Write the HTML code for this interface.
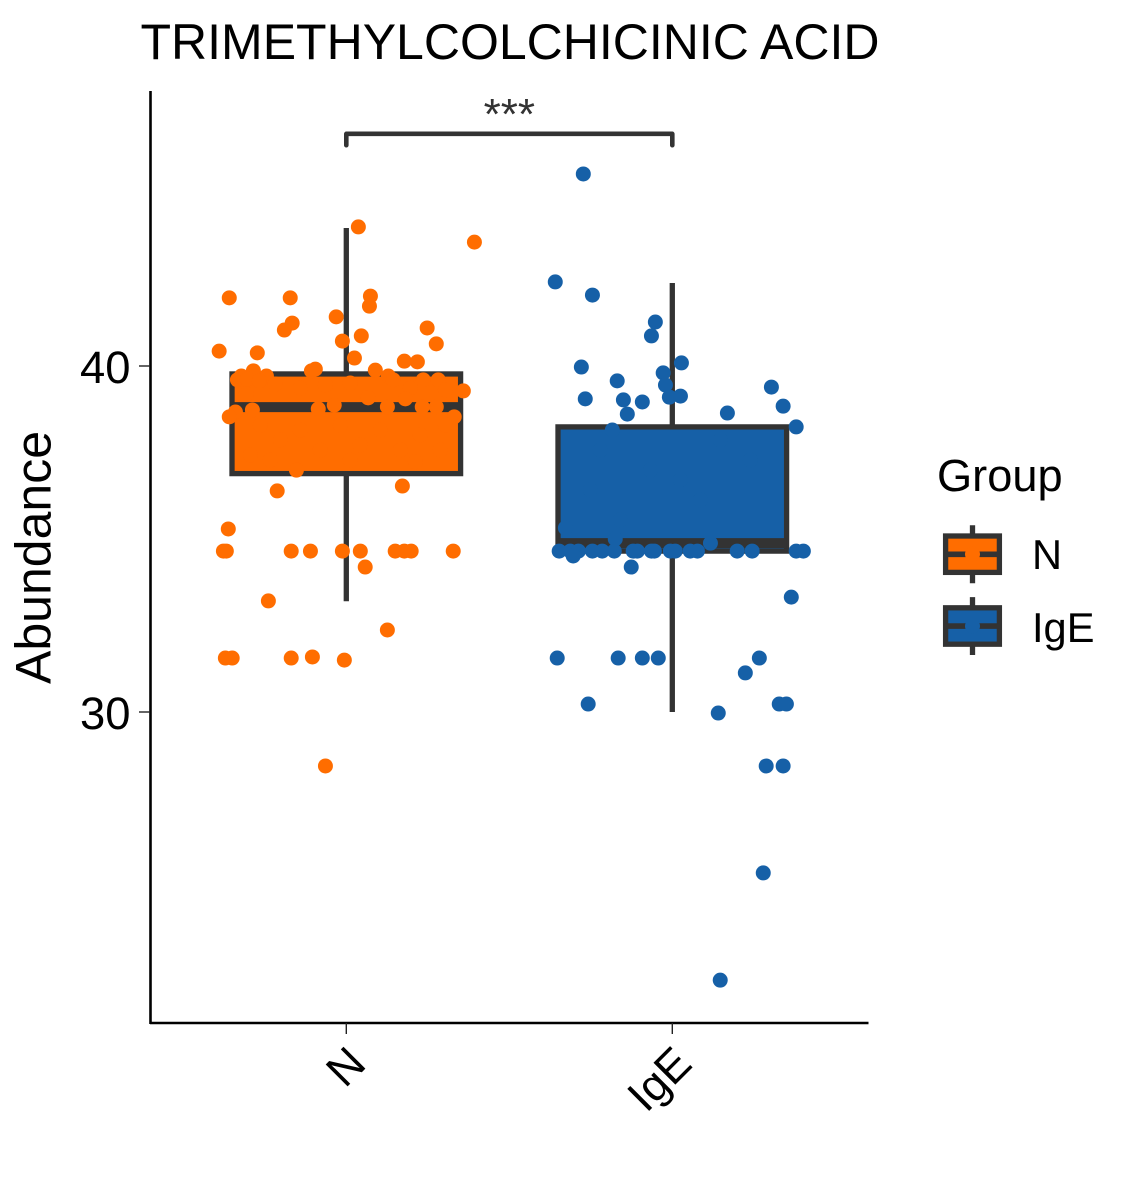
<!DOCTYPE html>
<html lang="en">
<head>
<meta charset="utf-8">
<title>TRIMETHYLCOLCHICINIC ACID</title>
<style>
html,body{margin:0;padding:0;background:#fff;width:1140px;height:1200px;overflow:hidden}
svg{display:block;font-family:"Liberation Sans",Arial,sans-serif}
</style>
</head>
<body>
<svg id="chart" width="1140" height="1200" viewBox="0 0 1140 1200" xmlns="http://www.w3.org/2000/svg">
<rect width="1140" height="1200" fill="#fff"/>
<text x="140.5" y="59" font-size="50" fill="#000">TRIMETHYLCOLCHICINIC ACID</text>
<text transform="translate(50.5,684) rotate(-90)" font-size="50" fill="#000">Abundance</text>
<g id="plot"></g>
<line x1="150.5" y1="91" x2="150.5" y2="1024" stroke="#000" stroke-width="2.6"/>
<line x1="150" y1="1023" x2="868.5" y2="1023" stroke="#000" stroke-width="2.6"/>
<g id="axes"></g>
<g fill="none" stroke="#333" stroke-width="4.6" stroke-linecap="round" stroke-linejoin="round">
<path id="bracket"></path>
</g>
<text id="stars" y="129" font-size="44" text-anchor="middle" fill="#333">***</text>
<g>
<text x="937" y="491" font-size="45.2" fill="#000">Group</text>
<g id="legend-keys"></g>
</g>
</svg>
<script>
const categories = ['N', 'IgE'];
const yTickValues = [30, 40];
const bracketLabel = '***';
const bracketLevel = 46.71;
const bracketDrop = 0.33;

const boxLow = [33.2, 30.0];
const boxQ1 = [36.89, 34.65];
const boxMedian = [38.81, 34.88];
const boxQ3 = [39.77, 38.24];
const boxHigh = [43.99, 42.4];
const boxFills = ['#FF6D00', '#1660A7'];

const normalJitter = [
  .037,.393,-.359,-.172,.074,.071,-.031,-.166,-.190,.248,.046,-.012,.276,-.390,-.273,.025,.178,.218,-.095,-.107,.089,
  -.322,-.285,-.245,-.334,-.304,-.267,-.307,-.218,-.141,-.064,.012,.129,.144,.236,.282,.196,.359,.304,.067,.181,-.037,.126,.233,.276,-.086,-.340,-.288,-.359,.331,
  -.264,-.202,-.141,-.080,-.018,.043,.104,.166,.227,.288,-.294,-.233,-.153,.012,.212,.304,
  -.212,.172,-.362,-.377,-.368,-.169,-.110,-.012,.043,.150,.178,.199,.328,.058,-.239,.126,-.371,-.350,-.169,-.104,-.006,-.064
];
const normalValues = [
  44.02,43.58,41.97,41.97,42.02,41.73,41.42,41.24,41.04,41.10,40.87,40.72,40.64,40.43,40.38,40.23,40.14,40.12,39.91,39.86,39.88,
  39.71,39.86,39.71,39.60,39.62,39.57,39.19,39.48,39.36,39.45,39.51,39.71,39.60,39.60,39.60,39.36,39.28,39.31,39.08,39.05,38.87,38.82,38.82,38.82,38.76,38.67,38.73,38.53,38.53,
  38.29,37.86,38.15,37.57,38.29,37.72,38.15,37.57,38.01,37.57,37.43,37.28,36.99,37.28,37.23,38.29,
  36.39,36.53,35.29,34.65,34.65,34.65,34.65,34.65,34.65,34.65,34.65,34.65,34.65,34.19,33.21,32.37,31.56,31.56,31.56,31.59,31.50,28.44
];
const igeJitter = [
  -.273,-.359,-.245,-.052,-.064,-.279,-.169,.028,-.028,-.021,-.009,.025,-.267,-.150,-.092,-.138,.169,.304,.340,.380,-.184,
  -.347,-.313,-.288,-.245,-.215,-.178,-.120,-.107,-.064,-.055,-.006,.009,.055,.077,.199,.245,.380,.402,
  -.304,.117,-.175,-.328,-.126,.365,-.353,-.166,-.092,-.043,.267,.224,-.258,.328,.350,.141,.288,.340,.279,.147,
  -.221,-.067,.086,.239,-.160,.025,.147,-.252
];
const igeValues = [
  45.55,42.43,42.05,41.27,40.87,39.97,39.57,40.09,39.80,39.45,39.10,39.13,39.05,39.02,38.96,38.61,38.64,39.39,38.84,38.24,38.15,
  34.65,34.65,34.65,34.65,34.65,34.65,34.65,34.65,34.65,34.65,34.65,34.65,34.65,34.65,34.65,34.65,34.65,34.65,
  34.51,34.88,35.00,35.32,34.19,33.32,31.56,31.56,31.56,31.56,31.56,31.13,30.23,30.23,30.23,29.97,28.44,28.44,25.35,22.25,
  37.57,36.99,36.13,37.28,35.55,36.71,37.86,36.42
];

const NS = 'http://www.w3.org/2000/svg';
const xScale = i => 346.3 + 326 * i;
const yScale = v => 712 - (v - 30) * 34.6;
const DARK = '#333333';
const BOX_HALF = 114.3;
const POINT_R = 7.5;
const LINE_W = 5.3;

function make(tag, attrs, parent) {
  const el = document.createElementNS(NS, tag);
  for (const k in attrs) el.setAttribute(k, attrs[k]);
  parent.appendChild(el);
  return el;
}

const plot = document.getElementById('plot');
const axes = document.getElementById('axes');

categories.forEach((cat, i) => {
  const cx = xScale(i);
  const g = make('g', {}, plot);
  
  

  const whisker = make('line', { x1: cx, x2: cx, y1: yScale(boxHigh[i]), y2: yScale(boxLow[i]), stroke: DARK, 'stroke-width': LINE_W }, g);
  
  

  const top = yScale(boxQ3[i]);
  const bottom = yScale(boxQ1[i]);
  const rect = make('rect', { x: cx - BOX_HALF, y: top, width: BOX_HALF * 2, height: bottom - top, fill: boxFills[i], stroke: DARK, 'stroke-width': LINE_W }, g);
  
  

  const med = make('line', { x1: cx - BOX_HALF, x2: cx + BOX_HALF, y1: yScale(boxMedian[i]), y2: yScale(boxMedian[i]), stroke: DARK, 'stroke-width': 10 }, g);
  
  
});

function drawPoints(catIndex, jitter, values, color, name) {
  const g = make('g', { fill: color }, plot);
  
  
  values.forEach((v, k) => {
    const c = make('circle', { cx: xScale(catIndex + jitter[k]), cy: yScale(v), r: POINT_R }, g);
    
    
  });
}
drawPoints(0, normalJitter, normalValues, boxFills[0], 'n');
drawPoints(1, igeJitter, igeValues, boxFills[1], 'ige');

yTickValues.forEach(t => {
  const y = yScale(t);
  const tick = make('line', { x1: 139, x2: 150, y1: y, y2: y, stroke: '#222', 'stroke-width': 1.4 }, axes);
  
  
  const label = make('text', { x: 130.5, y: y + 17, 'text-anchor': 'end', 'font-size': 45.4, fill: '#000' }, axes);
  
  
  label.textContent = t;
});

categories.forEach((cat, i) => {
  const x = xScale(i);
  const tick = make('line', { x1: x, x2: x, y1: 1023, y2: 1034, stroke: '#222', 'stroke-width': 1.4 }, axes);
  
  
  const label = make('text', { transform: 'translate(' + (x + 21.7) + ',1066) rotate(-45)', 'text-anchor': 'end', 'font-size': 45, fill: '#000' }, axes);
  
  
  label.textContent = cat;
});

const by = yScale(bracketLevel);
const byDrop = yScale(bracketLevel - bracketDrop);
document.getElementById('bracket').setAttribute('d',
  'M' + xScale(0) + ' ' + byDrop + 'V' + by + 'H' + xScale(1) + 'V' + byDrop);
const stars = document.getElementById('stars');
stars.setAttribute('x', (xScale(0) + xScale(1)) / 2);
stars.textContent = bracketLabel;

const legendKeys = document.getElementById('legend-keys');
const keyTops = [536, 607.8];
const keyTextY = [569, 642];
categories.forEach((cat, i) => {
  const g = make('g', {}, legendKeys);
  
  
  const t = keyTops[i];
  const mid = t + 18.3;
  const wh = make('line', { x1: 972.5, x2: 972.5, y1: t - 10.7, y2: t + 47.2, stroke: DARK, 'stroke-width': LINE_W }, g);
  
  
  const r = make('rect', { x: 945.6, y: t, width: 53.8, height: 36.4, fill: boxFills[i], stroke: DARK, 'stroke-width': LINE_W }, g);
  
  
  const m = make('line', { x1: 946, x2: 999, y1: mid, y2: mid, stroke: DARK, 'stroke-width': 5.6 }, g);
  
  
  const c = make('circle', { cx: 972.5, cy: mid, r: POINT_R, fill: boxFills[i] }, g);
  
  
  const label = make('text', { x: 1032, y: keyTextY[i], 'font-size': 41.6, fill: '#000' }, g);
  
  
  label.textContent = cat;
});
</script>
</body>
</html>
